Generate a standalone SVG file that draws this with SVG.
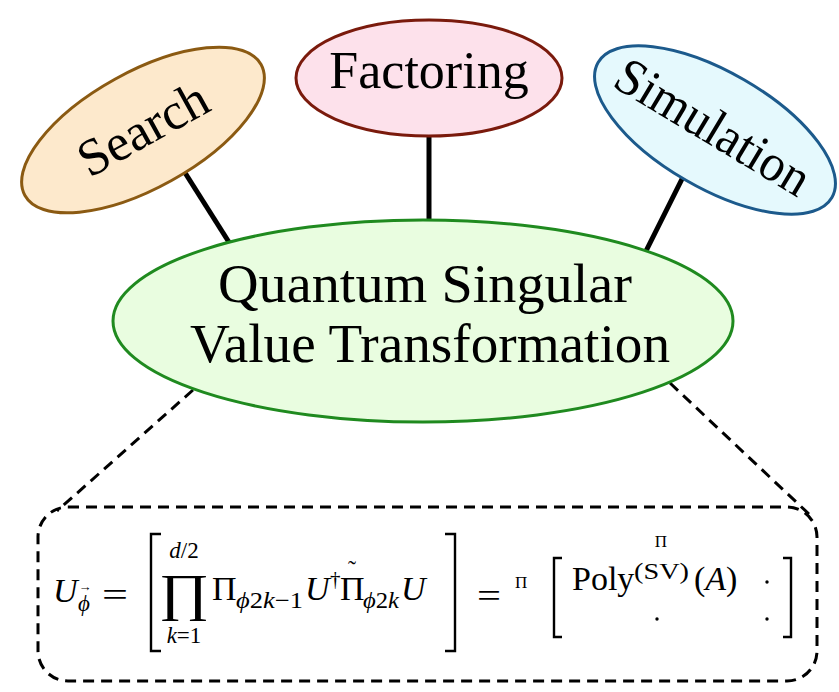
<svg xmlns="http://www.w3.org/2000/svg" width="839" height="692" viewBox="0 0 839 692">
<style>
.node{stroke-width:3}
.lbl{font-family:"Liberation Serif","DejaVu Serif",serif;fill:#000}
.m{font-family:"Liberation Serif","DejaVu Serif",serif;fill:#000}
.it{font-style:italic}
.up{font-style:normal}
.conn{stroke:#000;stroke-width:5;fill:none;stroke-linecap:butt}
.dash{stroke:#000;stroke-width:3;fill:none;stroke-dasharray:11 7}
.br{stroke:#000;stroke-width:2.4;fill:none}
</style>
<rect width="839" height="692" fill="#fff"/>
<g id="connectors">
<line class="conn" x1="182" y1="168" x2="232" y2="247"/>
<line class="conn" x1="429" y1="130" x2="429" y2="226"/>
<line class="conn" x1="686" y1="171" x2="645" y2="253"/>
<line class="dash" x1="193" y1="390" x2="57" y2="511"/>
<line class="dash" x1="670" y1="383" x2="810" y2="515"/>
</g>
<g id="search">
<ellipse class="node" cx="143" cy="130" rx="135" ry="58" transform="rotate(-29 143 130)" fill="#fde9cc" stroke="#8b5a12"/>
<text class="lbl" font-size="52" text-anchor="middle" transform="translate(143 129) rotate(-29)" y="17">Search</text>
</g>
<g id="factoring">
<ellipse class="node" cx="429" cy="78" rx="133" ry="58" fill="#fde1eb" stroke="#7a1a0c"/>
<text class="lbl" font-size="52" text-anchor="middle" x="429" y="88">Factoring</text>
</g>
<g id="simulation">
<ellipse class="node" cx="715" cy="130" rx="135" ry="58" transform="rotate(30 715 130)" fill="#e5f9fd" stroke="#1c5a8c"/>
<text class="lbl" font-size="52" text-anchor="middle" transform="translate(713 127) rotate(31)" y="17" textLength="218" lengthAdjust="spacingAndGlyphs">Simulation</text>
</g>
<g id="qsvt">
<ellipse class="node" cx="423" cy="321" rx="310" ry="101" fill="#e9fde0" stroke="#1f8a1f"/>
<text class="lbl" font-size="55" text-anchor="middle" x="425" y="302" textLength="414" lengthAdjust="spacingAndGlyphs">Quantum Singular</text>
<text class="lbl" font-size="55" text-anchor="middle" x="430" y="362" textLength="480" lengthAdjust="spacingAndGlyphs">Value Transformation</text>
</g>
<g id="formula-box">
<rect class="dash" x="38" y="507" width="779" height="174" rx="30" ry="30"/>
<g id="formula">
<text class="m it" x="53" y="602" font-size="34">U</text>
<text class="m it" x="78" y="611" font-size="23">ϕ</text>
<text class="m" x="85" y="591" font-size="13" text-anchor="middle">→</text>
<text class="m" x="102" y="606" font-size="34" textLength="26" lengthAdjust="spacingAndGlyphs">=</text>
<polyline class="br" points="161,534 151,534 151,651 161,651"/>
<text class="m it" x="184" y="558" font-size="23" text-anchor="middle">d<tspan class="up">/2</tspan></text>
<text class="m" font-size="52" text-anchor="middle" transform="translate(184 610) scale(1.18 1)">∏</text>
<text class="m it" x="184" y="643" font-size="23" text-anchor="middle">k<tspan class="up">=1</tspan></text>
<text class="m" x="212" y="600" font-size="34">Π</text>
<text class="m it" x="236" y="608" font-size="23" textLength="67" lengthAdjust="spacingAndGlyphs">ϕ<tspan class="up">2</tspan>k<tspan class="up">−1</tspan></text>
<text class="m it" x="305" y="600" font-size="34">U</text>
<text class="m" x="330" y="586" font-size="21">†</text>
<text class="m" x="340" y="600" font-size="34">Π</text>
<text class="m" x="352" y="577" font-size="24" text-anchor="middle">˜</text>
<text class="m it" x="363" y="608" font-size="23" textLength="36" lengthAdjust="spacingAndGlyphs">ϕ<tspan class="up">2</tspan>k</text>
<text class="m it" x="401" y="600" font-size="34">U</text>
<polyline class="br" points="445,534 455,534 455,651 445,651"/>
<text class="m" x="477" y="607" font-size="34" textLength="24" lengthAdjust="spacingAndGlyphs">=</text>
<text class="m" x="515" y="588" font-size="17">Π</text>
<polyline class="br" points="562,558 554,558 554,637 562,637"/>
<text class="m" x="572" y="590" font-size="34">Poly</text>
<text class="m" x="634" y="579" font-size="23" textLength="55" lengthAdjust="spacingAndGlyphs">(SV)</text>
<text class="m" x="694" y="590" font-size="34">(<tspan class="it">A</tspan>)</text>
<text class="m" x="661" y="547" font-size="17" text-anchor="middle">Π</text>
<circle cx="767" cy="582" r="1.7" fill="#000"/>
<circle cx="657" cy="619" r="1.7" fill="#000"/>
<circle cx="767" cy="619" r="1.7" fill="#000"/>
<polyline class="br" points="783,558 791,558 791,637 783,637"/>
</g>
</g>
</svg>
